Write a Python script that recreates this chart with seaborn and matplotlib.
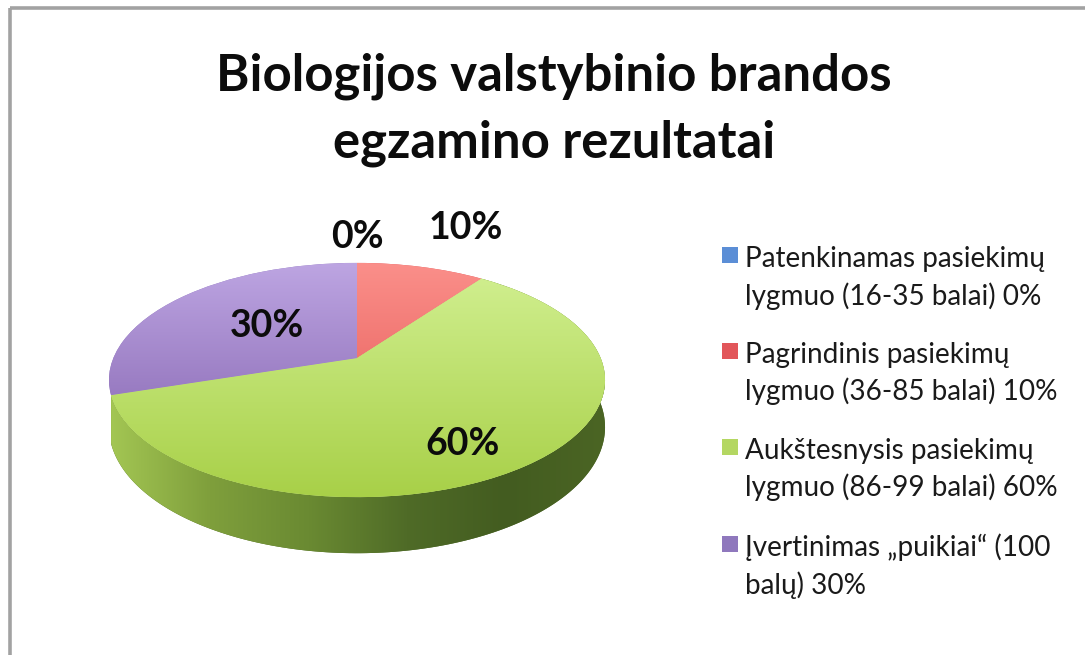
import numpy as np
import matplotlib
matplotlib.use("Agg")
import matplotlib.pyplot as plt
import seaborn as sns
from matplotlib.colors import LinearSegmentedColormap
from matplotlib.legend_handler import HandlerPatch
from matplotlib.patches import Rectangle
from matplotlib.transforms import Transform

title = "Biologijos valstybinio brandos\negzamino rezultatai"
values = [0, 10, 60, 30]
labels = [
    "Patenkinamas pasiekimų\nlygmuo (16-35 balai) 0%",
    "Pagrindinis pasiekimų\nlygmuo (36-85 balai) 10%",
    "Aukštesnysis pasiekimų\nlygmuo (86-99 balai) 60%",
    "Įvertinimas „puikiai“ (100\nbalų) 30%",
]
legend_colors = ["#5b8ed6", "#e2565a", "#b4d762", "#8f78bd"]
top_shades = [
    ("#6f9fe0", "#4a78b8"),
    ("#fb8f8a", "#df4d4a"),
    ("#d2f092", "#a8d048"),
    ("#bda5e2", "#7c5aa8"),
]
wall_shades = ["#a3c653", "#7f9f3c", "#6a8a32", "#4f6b27", "#435c20", "#4b6524"]
label_spots = [(357, 237), (466, 228), (463, 444), (267, 326)]

sns.set_theme(style="white")
plt.rcParams["font.family"] = ["Lato", "DejaVu Sans"]
palette = sns.color_palette(legend_colors)


# perspektiva kolacui: vrsok je dalej, spodok blizsie
class PieProjection(Transform):
    input_dims = 2
    output_dims = 2
    has_inverse = False
    tilt = 0.188

    def transform_non_affine(self, values):
        u, v = np.asarray(values, dtype=float).T
        w = 1 + self.tilt * v
        return np.column_stack([357 + 243.6 * u / w, 358 - 113 * v / w])


def rim(thetas, drop=0.0):
    rad = np.radians(thetas)
    u, v = np.cos(rad), np.sin(rad)
    w = 1 + PieProjection.tilt * v
    xy = PieProjection().transform_non_affine(np.column_stack([u, v]))
    xy[:, 1] += drop / w
    return xy


fig = plt.figure(figsize=(10.85, 6.55), dpi=100, facecolor="white")
ax = fig.add_axes([0, 0, 1, 1])

wedges, _, pct_texts = ax.pie(
    values, startangle=90, counterclock=False, radius=1,
    colors=palette, autopct="%.0f%%", wedgeprops={"linewidth": 0},
)
projection = PieProjection() + ax.transData
ax.set_aspect("auto")

# stena kolaca pod zelenym dielom
start_green = 90 - 3.6 * sum(values[:2])
end_green = start_green - 3.6 * values[2]
thetas = np.linspace(end_green, start_green, 200)
wall_xy = np.vstack([rim(thetas), rim(thetas, drop=45.5)[::-1]])
wall = ax.fill(wall_xy[:, 0], wall_xy[:, 1], color=wall_shades[3], lw=0, zorder=1)[0]
wall_im = ax.imshow(
    np.linspace(0, 1, 256).reshape(1, -1), aspect="auto", zorder=2,
    cmap=LinearSegmentedColormap.from_list("wall", wall_shades),
    extent=(110, 606, 560, 380),
)
wall_im.set_clip_path(wall)

for wedge, shades in zip(wedges, top_shades):
    wedge.set_transform(projection)
    wedge.set_zorder(3)
    im = ax.imshow(
        np.linspace(0, 1, 256).reshape(-1, 1), aspect="auto", zorder=4,
        cmap=LinearSegmentedColormap.from_list("top", shades),
        extent=(105, 610, 497, 263),
    )
    im.set_clip_path(wedge)

for text, spot in zip(pct_texts, label_spots):
    text.set_position(spot)
    text.set(fontsize=27, fontweight="bold", color="#0c0c0c", ha="center", va="center", zorder=5)

# ramik ide az za okraj obrazka
ax.add_patch(Rectangle((10, 8), 1200, 800, fill=False, ec="#a2a2a2", lw=2.6, zorder=6))

ax.text(554, 110, title, fontsize=36.6, fontweight="bold", color="#0c0c0c",
        ha="center", va="center", linespacing=1.5, zorder=5)


def first_line_square(legend, orig_handle, xdescent, ydescent, width, height, fontsize):
    return Rectangle((-xdescent, 18), 11.5, 11.5)


leg = ax.legend(
    wedges, labels, loc="upper left", bbox_to_anchor=(722 / 1085, 1 - 246 / 655),
    frameon=False, fontsize=20.1, labelspacing=1.16, handlelength=0.58,
    handletextpad=0.25, borderaxespad=0, borderpad=0,
    handler_map={w: HandlerPatch(patch_func=first_line_square) for w in wedges},
)
leg.set_zorder(5)
for t in leg.get_texts():
    t.set_linespacing(1.44)
    t.set_color("#1a1a1a")

ax.set_xlim(0, 1085)
ax.set_ylim(655, 0)
ax.axis("off")

fig.savefig("out.png", dpi=100, facecolor="white")
